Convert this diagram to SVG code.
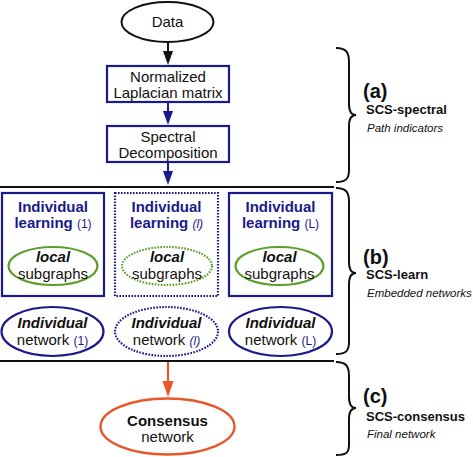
<svg xmlns="http://www.w3.org/2000/svg" width="473" height="457" viewBox="0 0 473 457">
<style>
text{font-family:"Liberation Sans",Arial,sans-serif;text-anchor:middle;fill:#111}
.t{font-size:15px}
.b{font-weight:bold}
.bi{font-weight:bold;font-style:italic}
.blue{fill:#1a1a8a}
.sm{font-size:12px;font-weight:normal;fill:#1a1a8a}
.box{fill:#fff;stroke:#1a1a8a;stroke-width:2.2}
.dot{stroke-dasharray:1.6 1.4}
.green{fill:#fff;stroke:#5c9e2a;stroke-width:2.2}
.net{fill:#fff;stroke:#1a1a8a;stroke-width:2.2}
.brace{fill:none;stroke:#111;stroke-width:2}
.lab{text-anchor:start}
</style>
<g id="connectors">
<line x1="168" y1="42" x2="168" y2="53" stroke="#111" stroke-width="2"/>
<polygon points="163,51 173,51 168,65" fill="#111"/>
<line x1="168" y1="102" x2="168" y2="113" stroke="#1a1a8a" stroke-width="2"/>
<polygon points="163,111 173,111 168,125" fill="#1a1a8a"/>
<line x1="168" y1="162" x2="168" y2="173" stroke="#1a1a8a" stroke-width="2"/>
<polygon points="163,171 173,171 168,185" fill="#1a1a8a"/>
<line x1="168" y1="361" x2="168" y2="383" stroke="#e8572a" stroke-width="2.2"/>
<polygon points="162.5,381 173.5,381 168,397" fill="#e8572a"/>
</g>
<g id="separators">
<line x1="0" y1="187" x2="334" y2="187" stroke="#111" stroke-width="2"/>
<line x1="0" y1="361" x2="334" y2="361" stroke="#111" stroke-width="2"/>
</g>
<g id="data">
<ellipse cx="167.5" cy="22" rx="46" ry="20" fill="#fff" stroke="#111" stroke-width="2"/>
<text class="t" x="167.5" y="27">Data</text>
</g>
<g id="laplacian">
<rect class="box" x="107" y="66" width="122" height="36"/>
<text class="t" x="168" y="82">Normalized</text>
<text class="t" x="168" y="98">Laplacian matrix</text>
</g>
<g id="spectral">
<rect class="box" x="107" y="126" width="122" height="36"/>
<text class="t" x="168" y="142">Spectral</text>
<text class="t" x="168" y="158">Decomposition</text>
</g>
<g id="learn1">
<rect class="box" x="2" y="193" width="102" height="103"/>
<text class="t b blue" x="53" y="212">Individual</text>
<text class="t b blue" x="53" y="228">learning <tspan class="sm">(1)</tspan></text>
<ellipse class="green" cx="53" cy="266" rx="44.5" ry="19"/>
<text class="t bi" x="53" y="262">local</text>
<text class="t" x="53" y="279">subgraphs</text>
</g>
<g id="learnl">
<rect class="box dot" x="115" y="193" width="103" height="103"/>
<text class="t b blue" x="166.5" y="212">Individual</text>
<text class="t b blue" x="166.5" y="228">learning <tspan class="sm" font-style="italic">(l)</tspan></text>
<ellipse class="green dot" cx="167" cy="266" rx="45" ry="19"/>
<text class="t bi" x="167" y="262">local</text>
<text class="t" x="167" y="279">subgraphs</text>
</g>
<g id="learnL">
<rect class="box" x="229" y="193" width="103" height="103"/>
<text class="t b blue" x="280.5" y="212">Individual</text>
<text class="t b blue" x="280.5" y="228">learning <tspan class="sm">(L)</tspan></text>
<ellipse class="green" cx="279.5" cy="266" rx="44" ry="19"/>
<text class="t bi" x="279.5" y="262">local</text>
<text class="t" x="279.5" y="279">subgraphs</text>
</g>
<g id="net1">
<ellipse class="net" cx="52.5" cy="331.5" rx="51" ry="24.5"/>
<text class="t bi" x="52.5" y="328">Individual</text>
<text class="t" x="52.5" y="345">network <tspan class="sm">(1)</tspan></text>
</g>
<g id="netl">
<ellipse class="net dot" cx="166.5" cy="331.5" rx="51.5" ry="24.5"/>
<text class="t bi" x="166.5" y="328">Individual</text>
<text class="t" x="166.5" y="345">network <tspan class="sm" font-style="italic">(l)</tspan></text>
</g>
<g id="netL">
<ellipse class="net" cx="280.5" cy="331.5" rx="51.5" ry="24.5"/>
<text class="t bi" x="280.5" y="328">Individual</text>
<text class="t" x="280.5" y="345">network <tspan class="sm">(L)</tspan></text>
</g>
<g id="consensus">
<ellipse cx="167.5" cy="426.5" rx="67" ry="28" fill="#fff" stroke="#e8572a" stroke-width="2.4"/>
<text class="t b" x="167.5" y="426">Consensus</text>
<text class="t" x="167.5" y="442">network</text>
</g>
<g id="brace-a">
<path class="brace" d="M336,48 C346,48 349,52 349,62 L349,104 C349,111 351,115 356,115 C351,115 349,119 349,126 L349,170 C349,179 346,182 336,182"/>
<text class="lab b" x="363" y="98" font-size="20">(a)</text>
<text class="lab b" x="366" y="114" font-size="13">SCS-spectral</text>
<text class="lab" x="367" y="132" font-size="11.5" font-style="italic">Path indicators</text>
</g>
<g id="brace-b">
<path class="brace" d="M336,188 C346,188 349,192 349,202 L349,262 C349,269 351,273 356,273 C351,273 349,277 349,284 L349,342 C349,351 346,354 336,354"/>
<text class="lab b" x="363" y="264" font-size="20">(b)</text>
<text class="lab b" x="366" y="279" font-size="13">SCS-learn</text>
<text class="lab" x="367" y="297" font-size="11.5" font-style="italic">Embedded networks</text>
</g>
<g id="brace-c">
<path class="brace" d="M336,362 C346,362 349,366 349,376 L349,397 C349,404 351,408 356,408 C351,408 349,412 349,419 L349,445 C349,453 346,455 336,455"/>
<text class="lab b" x="363" y="403" font-size="20">(c)</text>
<text class="lab b" x="366" y="421" font-size="13">SCS-consensus</text>
<text class="lab" x="367" y="438" font-size="11.5" font-style="italic">Final network</text>
</g>
</svg>
